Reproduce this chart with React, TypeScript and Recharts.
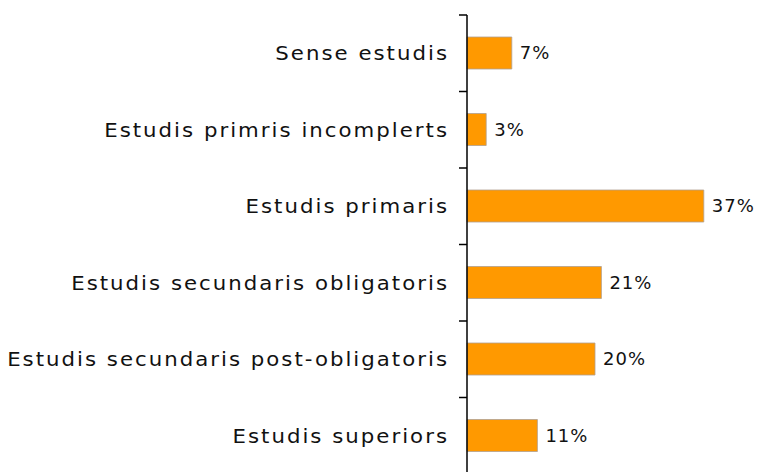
import { BarChart, Bar, XAxis, YAxis, LabelList } from 'recharts';

const categories = [
  'Sense estudis',
  'Estudis primris incomplerts',
  'Estudis primaris',
  'Estudis secundaris obligatoris',
  'Estudis secundaris post-obligatoris',
  'Estudis superiors',
];
const percentages = [7, 3, 37, 21, 20, 11];

const data = categories.map((name, i) => ({ name, value: percentages[i] }));

const FONT = '"DejaVu Sans", sans-serif';

// category tick: label centred in band, tick mark drawn at band top edge
function CategoryTick(props: any) {
  const { x, y, payload } = props;
  const half = 76.5 / 2;
  return (
    <g>
      <line x1={x} x2={x + 8} y1={y - half} y2={y - half} stroke="#000" strokeWidth={1.5} />
      <text
        transform={`translate(${x - 10}, ${y + 7}) scale(1.12, 1)`}
        textAnchor="end"
        fill="#111"
        fontSize={19}
        fontFamily={FONT}
        letterSpacing={1.8}
      >
        {payload.value}
      </text>
    </g>
  );
}

export default function App() {
  return (
    <div style={{ position: 'absolute', left: 0, top: 0, background: '#fff' }}>
      <BarChart
        width={763}
        height={480}
        data={data}
        layout="vertical"
        margin={{ top: 15, right: 40, bottom: 6, left: 0 }}
        barCategoryGap={0}
      >
        <XAxis type="number" domain={[0, 40]} hide />
        <YAxis
          type="category"
          dataKey="name"
          width={467}
          axisLine={{ stroke: '#000', strokeWidth: 1.5 }}
          tickLine={false}
          tick={<CategoryTick />}
          interval={0}
        />
        <Bar dataKey="value" fill="#FF9900" stroke="#B0A090" strokeWidth={0.8} barSize={32} isAnimationActive={false}>
          <LabelList
            dataKey="value"
            position="right"
            offset={8}
            formatter={(v: any) => `${v}%`}
            fill="#111"
            fontSize={18}
            fontFamily={FONT}
            letterSpacing={1}
          />
        </Bar>
      </BarChart>
    </div>
  );
}
